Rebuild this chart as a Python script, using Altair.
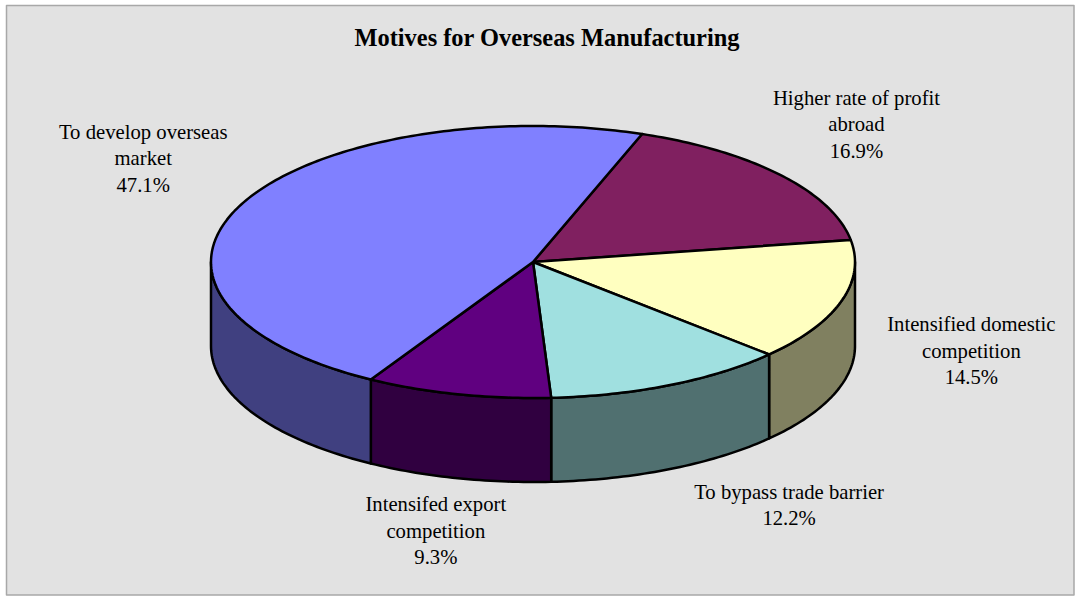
import math
import altair as alt
import pandas as pd

# Survey shares, clockwise from the first slice boundary
categories = [
    "Higher rate of profit\nabroad",
    "Intensified domestic\ncompetition",
    "To bypass trade barrier",
    "Intensifed export\ncompetition",
    "To develop overseas\nmarket",
]
shares = [16.9, 14.5, 12.2, 9.3, 47.1]
top_colors = ["#802060", "#FFFFC0", "#A0E0E0", "#600080", "#8080FF"]
side_colors = ["#401030", "#808060", "#507070", "#300040", "#404080"]
chart_title = "Motives for Overseas Manufacturing"

# Layout of the tilted pie, in canvas pixels
WIDTH, HEIGHT = 1079, 596
CX, CY, RX, RY, DEPTH = 533, 262, 322, 136, 84
START_ANGLE = 19.8
FRAME = (6.5, 5.5, 1074, 595)
# First-line label offsets from each slice's rim midpoint
LABEL_NUDGE = [(76, -76), (130, 24), (119, 108), (-22, 111), (-98, -71.5)]


def rim(angle, drop=0):
    t = math.radians(angle)
    return [CX + RX * math.sin(t), CY - RY * math.cos(t) + drop]


def arc(a0, a1, drop=0):
    steps = max(2, int(abs(a1 - a0)) + 1)
    return [rim(a0 + (a1 - a0) * i / steps, drop) for i in range(steps + 1)]


def feature(ring, fill):
    closed = ring + [ring[0]]
    return {
        "type": "Feature",
        "geometry": {"type": "Polygon", "coordinates": [closed]},
        "properties": {"fill": fill},
    }


walls, tops, labels = [], [], []
angle = START_ANGLE
for name, share, top, side, nudge in zip(categories, shares, top_colors, side_colors, LABEL_NUDGE):
    end = angle + share * 3.6
    tops.append(feature([[CX, CY]] + arc(angle, end), top))
    # Only the front half of the rim shows a wall
    a0, a1 = max(angle, 90), min(end, 270)
    if a1 > a0:
        walls.append(feature(arc(a0, a1) + arc(a1, a0, DEPTH), side))
    mid_x, mid_y = rim((angle + end) / 2)
    labels.append({
        "text": f"{name}\n{share:.1f}%",
        "lon": mid_x + nudge[0],
        "lat": mid_y + nudge[1],
    })
    angle = end

x0, y0, x1, y1 = FRAME
frame = feature([[x0, y0], [x1, y0], [x1, y1], [x0, y1]], "#E2E2E2")


def shapes(features, stroke, stroke_width):
    return (
        alt.Chart(alt.Data(values=features))
        .mark_geoshape(stroke=stroke, strokeWidth=stroke_width, strokeJoin="round")
        .encode(fill=alt.Fill("properties.fill:N", scale=None, legend=None))
        .project(type="identity", scale=1, translate=[0, 0])
    )


label_layer = (
    alt.Chart(pd.DataFrame(labels))
    .mark_text(font="Liberation Serif", fontSize=20.7, color="#000000", align="center",
               baseline="middle", lineBreak="\n", lineHeight=26.4)
    .encode(longitude="lon:Q", latitude="lat:Q", text="text:N")
    .project(type="identity", scale=1, translate=[0, 0])
)

title_layer = (
    alt.Chart(pd.DataFrame({"text": [chart_title], "lon": [547], "lat": [38.5]}))
    .mark_text(font="Liberation Serif", fontSize=24.4, fontWeight="bold", color="#000000",
               align="center", baseline="middle")
    .encode(longitude="lon:Q", latitude="lat:Q", text="text:N")
    .project(type="identity", scale=1, translate=[0, 0])
)

chart = (
    alt.layer(
        shapes([frame], "#A8A8A8", 1.5),
        shapes(walls, "#000000", 2.5),
        shapes(tops, "#000000", 2.5),
        label_layer,
        title_layer,
    )
    .properties(width=WIDTH, height=HEIGHT, padding=0, autosize=alt.AutoSizeParams(type="none"),
                background="#FFFFFF")
    .configure_view(stroke=None)
)

chart.save("out.html", embed_options={"renderer": "svg", "actions": False})
